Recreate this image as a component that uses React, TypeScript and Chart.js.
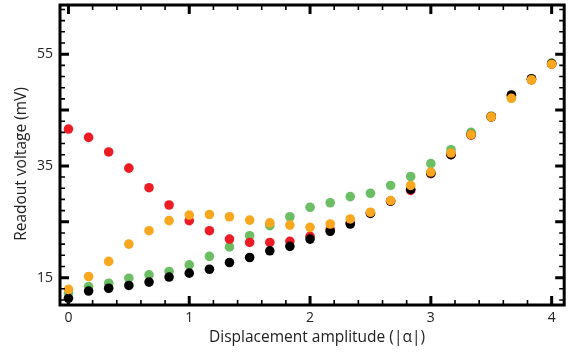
import React, { useEffect, useRef } from "react";
import { Chart, registerables } from "chart.js";

Chart.register(...registerables);

// Displacement amplitude |alpha| (x values)
const amplitudes = [
  0, 0.167, 0.333, 0.5, 0.667, 0.833, 1, 1.167, 1.333, 1.5, 1.667, 1.833, 2,
  2.167, 2.333, 2.5, 2.667, 2.833, 3, 3.167, 3.333, 3.5, 3.667, 3.833, 4,
];

// Readout voltage (mV) per series
const redSeries = [
  41.6, 40.1, 37.5, 34.6, 31.1, 28.0, 25.2, 23.4, 21.9, 21.3, 21.3, 21.5, 22.4,
  23.6, 24.8, 26.6, 28.7, 30.6, 33.6, 37.0, 40.5, 43.8, 47.6, 50.4, 53.2,
];
const greenSeries = [
  12.2, 13.4, 14.0, 14.9, 15.5, 16.1, 17.3, 18.8, 20.5, 22.5, 24.3, 25.9, 27.6,
  28.4, 29.5, 30.1, 31.5, 33.1, 35.4, 37.9, 41.0, 43.9, 47.2, 50.5, 53.4,
];
const blackSeries = [
  11.3, 12.6, 13.1, 13.6, 14.2, 15.1, 15.8, 16.5, 17.7, 18.6, 19.8, 20.6, 21.9,
  23.3, 24.6, 26.5, 28.7, 30.8, 33.7, 37.0, 40.6, 43.8, 47.7, 50.6, 53.3,
];
const orangeSeries = [
  12.9, 15.2, 17.9, 21.0, 23.4, 25.2, 26.2, 26.3, 25.9, 25.3, 24.8, 24.4, 24.0,
  24.6, 25.5, 26.7, 28.8, 31.5, 33.9, 37.3, 40.6, 43.8, 47.1, 50.4, 53.2,
];

// Axis ticks
const xTickLabels = [0, 1, 2, 3, 4];
const yTickLabels = [15, 35, 55];
const xMin = -0.07;
const xMax = 4.104;
const yMin = 10.1;
const yMax = 63.8;

const xTitle = "Displacement amplitude (|\u03B1|)";
const yTitle = "Readout voltage (mV)";

const FONT = "'Open Sans', 'Noto Sans', sans-serif";

const framePlugin = {
  id: "frameTicks",
  afterDraw(chart: any) {
    const { ctx, chartArea: a, scales } = chart;
    const xs = scales.x;
    const ys = scales.y;
    ctx.save();
    ctx.strokeStyle = "#000";
    ctx.lineCap = "butt";
    // x ticks (minor every 0.2, major every 1)
    for (let i = 0; i <= 20; i++) {
      const v = i * 0.2;
      if (v < xMin || v > xMax) continue;
      const major = i % 5 === 0;
      const px = xs.getPixelForValue(v);
      const len = major ? 9 : 5;
      ctx.lineWidth = major ? 3 : 1.6;
      ctx.beginPath();
      ctx.moveTo(px, a.bottom);
      ctx.lineTo(px, a.bottom - len);
      ctx.moveTo(px, a.top);
      ctx.lineTo(px, a.top + len);
      ctx.stroke();
    }
    // y ticks (minor every 2, major every 10 from 15)
    for (let v = 11; v <= 63; v += 2) {
      if (v < yMin || v > yMax) continue;
      const major = (v - 15) % 10 === 0;
      const py = ys.getPixelForValue(v);
      const len = major ? 9 : 5;
      ctx.lineWidth = major ? 3 : 1.6;
      ctx.beginPath();
      ctx.moveTo(a.left, py);
      ctx.lineTo(a.left + len, py);
      ctx.moveTo(a.right, py);
      ctx.lineTo(a.right - len, py);
      ctx.stroke();
    }
    // frame
    ctx.lineWidth = 3;
    ctx.strokeRect(a.left, a.top, a.right - a.left, a.bottom - a.top);

    // titles
    ctx.fillStyle = "#222";
    ctx.font = `15.5px ${FONT}`;
    ctx.textAlign = "center";
    ctx.textBaseline = "middle";
    ctx.fillText(xTitle, 317, 338);
    ctx.save();
    ctx.translate(22, 164);
    ctx.rotate(-Math.PI / 2);
    ctx.fillText(yTitle, 0, 0);
    ctx.restore();
    ctx.restore();
  },
};

function mkDataset(data: number[], color: string) {
  return {
    data: amplitudes.map((x, i) => ({ x, y: data[i] })),
    backgroundColor: color,
    borderColor: color,
    borderWidth: 0,
    pointRadius: 4.8,
    pointHoverRadius: 4.8,
    showLine: false,
  };
}

const zeroPad = (s: any) => {
  s.paddingTop = 0;
  s.paddingBottom = 0;
  s.paddingLeft = 0;
  s.paddingRight = 0;
};

export default function App() {
  const ref = useRef<HTMLCanvasElement>(null);
  useEffect(() => {
    if (!ref.current) return;
    const chart = new Chart(ref.current, {
      type: "scatter",
      data: {
        // Chart.js paints the first dataset on top
        datasets: [
          mkDataset(orangeSeries, "rgb(249,167,30)"),
          mkDataset(blackSeries, "#000000"),
          mkDataset(redSeries, "rgb(237,28,36)"),
          mkDataset(greenSeries, "rgb(108,190,100)"),
        ],
      },
      options: {
        responsive: false,
        animation: false,
        events: [],
        layout: { padding: { top: 5, right: 1, left: 0, bottom: 0 } },
        plugins: {
          legend: { display: false },
          tooltip: { enabled: false },
          title: { display: false },
        },
        scales: {
          x: {
            type: "linear",
            min: xMin,
            max: xMax,
            grid: { display: false, drawTicks: false },
            border: { display: false },
            afterBuildTicks: (s: any) => {
              s.ticks = xTickLabels.map((v) => ({ value: v }));
            },
            afterFit: (s: any) => {
              s.height = 49;
              zeroPad(s);
            },
            ticks: {
              padding: 5,
              color: "#222",
              font: { family: FONT, size: 14 },
              maxRotation: 0,
              autoSkip: false,
            },
          },
          y: {
            type: "linear",
            min: yMin,
            max: yMax,
            grid: { display: false, drawTicks: false },
            border: { display: false },
            afterBuildTicks: (s: any) => {
              s.ticks = yTickLabels.map((v) => ({ value: v }));
            },
            afterFit: (s: any) => {
              s.width = 60;
              zeroPad(s);
            },
            ticks: {
              padding: 7,
              color: "#222",
              font: { family: FONT, size: 14 },
              autoSkip: false,
            },
          },
        },
      },
      plugins: [framePlugin],
    });
    return () => chart.destroy();
  }, []);
  return (
    <div style={{ position: "fixed", left: 0, top: 0, width: 569, height: 354, background: "#fff" }}>
      <canvas ref={ref} width={569} height={354} style={{ display: "block" }} />
    </div>
  );
}
